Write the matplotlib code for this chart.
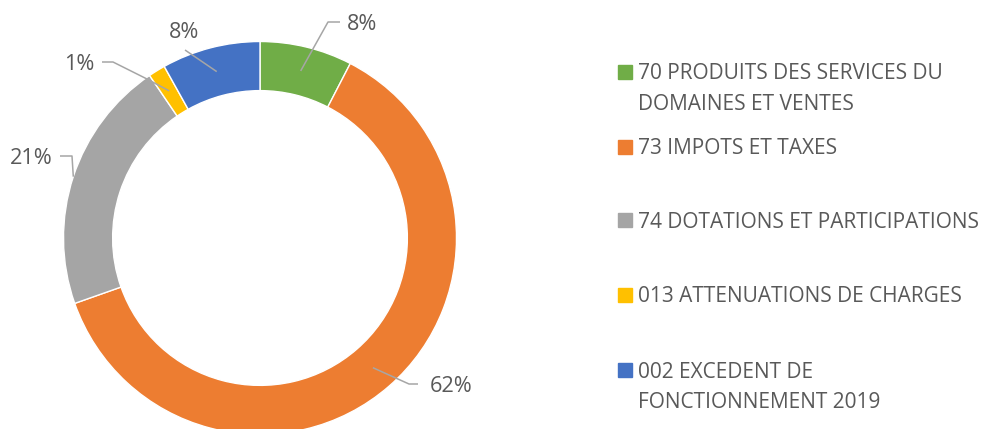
import matplotlib
matplotlib.use("Agg")
import matplotlib.pyplot as plt
import numpy as np
from matplotlib.patches import Rectangle

# data
CATEGORIES = [
    "70 PRODUITS DES SERVICES DU\nDOMAINES ET VENTES",
    "73 IMPOTS ET TAXES",
    "74 DOTATIONS ET PARTICIPATIONS",
    "013 ATTENUATIONS DE CHARGES",
    "002 EXCEDENT DE\nFONCTIONNEMENT 2019",
]
SHARES = [7.6, 62.0, 20.9, 1.4, 8.1]
COLOURS = ["#70AD47", "#ED7D31", "#A5A5A5", "#FFC000", "#4472C4"]

# layout (pixels)
FIG_W, FIG_H = 982, 429
DPI = 100
CENTER_X, CENTER_Y = 260, 238
RADIUS_PX = 196.5
RING_WIDTH = 0.25
TEXT_COLOUR = "#595959"
LINE_COLOUR = "#A6A6A6"
FONT = "Open Sans"
LEGEND_SIZE = 15.0
LABEL_SIZE = 15.6
TEXT_DROP = 2  # open sans sits a bit high with va=center

# leader lines: start radius, bend points (px), label centre (px)
LEADER_START_R = [0.875, 0.875, 1.0, 0.88, 0.875]
LEADER_BENDS = [
    [(328, 22), (340, 22)],
    [(409, 384), (418, 384)],
    [(72, 156), (60, 156)],
    [(145, 78), (113, 62), (102, 62)],
    [(185, 50)],
]
LABEL_POS = [(362, 23), (451, 385), (31, 157), (79, 63), (184, 31)]

# legend rows (px from top, first line of each entry)
LEGEND_SQ_X = 618
LEGEND_TEXT_X = 638
LEGEND_ROWS_Y = [72, 147, 220, 295, 370]
LEGEND_LINE_STEP = 30
SQ = 14


def to_data(px, py):
    return (px - CENTER_X) / RADIUS_PX, (CENTER_Y - py) / RADIUS_PX


fig = plt.figure(figsize=(FIG_W / DPI, FIG_H / DPI), dpi=DPI)
ax = fig.add_axes([0, 0, 520 / FIG_W, 1])
wedges, _ = ax.pie(SHARES, colors=COLOURS, startangle=90, counterclock=False,
                   radius=1.0,
                   wedgeprops={"width": RING_WIDTH, "edgecolor": "white", "linewidth": 1})
ax.set_aspect("auto")
ax.set_xlim(-CENTER_X / RADIUS_PX, (520 - CENTER_X) / RADIUS_PX)
ax.set_ylim(-(FIG_H - CENTER_Y) / RADIUS_PX, CENTER_Y / RADIUS_PX)
ax.axis("off")

total = sum(SHARES)
for i, w in enumerate(wedges):
    mid = np.deg2rad((w.theta1 + w.theta2) / 2)
    r = LEADER_START_R[i]
    xs = [r * np.cos(mid)]
    ys = [r * np.sin(mid)]
    for bx, by in LEADER_BENDS[i]:
        dx, dy = to_data(bx, by)
        xs.append(dx)
        ys.append(dy)
    ax.plot(xs, ys, color=LINE_COLOUR, lw=1.1, solid_capstyle="butt")
    lx, ly = to_data(LABEL_POS[i][0], LABEL_POS[i][1] + TEXT_DROP)
    pct = round(SHARES[i] / total * 100)
    ax.text(lx, ly, f"{pct}%", ha="center", va="center", color=TEXT_COLOUR,
            fontsize=LABEL_SIZE, family=FONT)

# legend drawn by hand
for i, name in enumerate(CATEGORIES):
    y0 = LEGEND_ROWS_Y[i]
    fig.patches.append(Rectangle((LEGEND_SQ_X / FIG_W, 1 - (y0 + SQ / 2) / FIG_H),
                                 SQ / FIG_W, SQ / FIG_H, color=COLOURS[i],
                                 transform=fig.transFigure, figure=fig))
    for j, line in enumerate(name.split("\n")):
        yy = y0 + j * LEGEND_LINE_STEP + TEXT_DROP
        fig.text(LEGEND_TEXT_X / FIG_W, 1 - yy / FIG_H, line, ha="left",
                 va="center", color=TEXT_COLOUR, fontsize=LEGEND_SIZE, family=FONT)

fig.savefig("out.png", dpi=DPI)
